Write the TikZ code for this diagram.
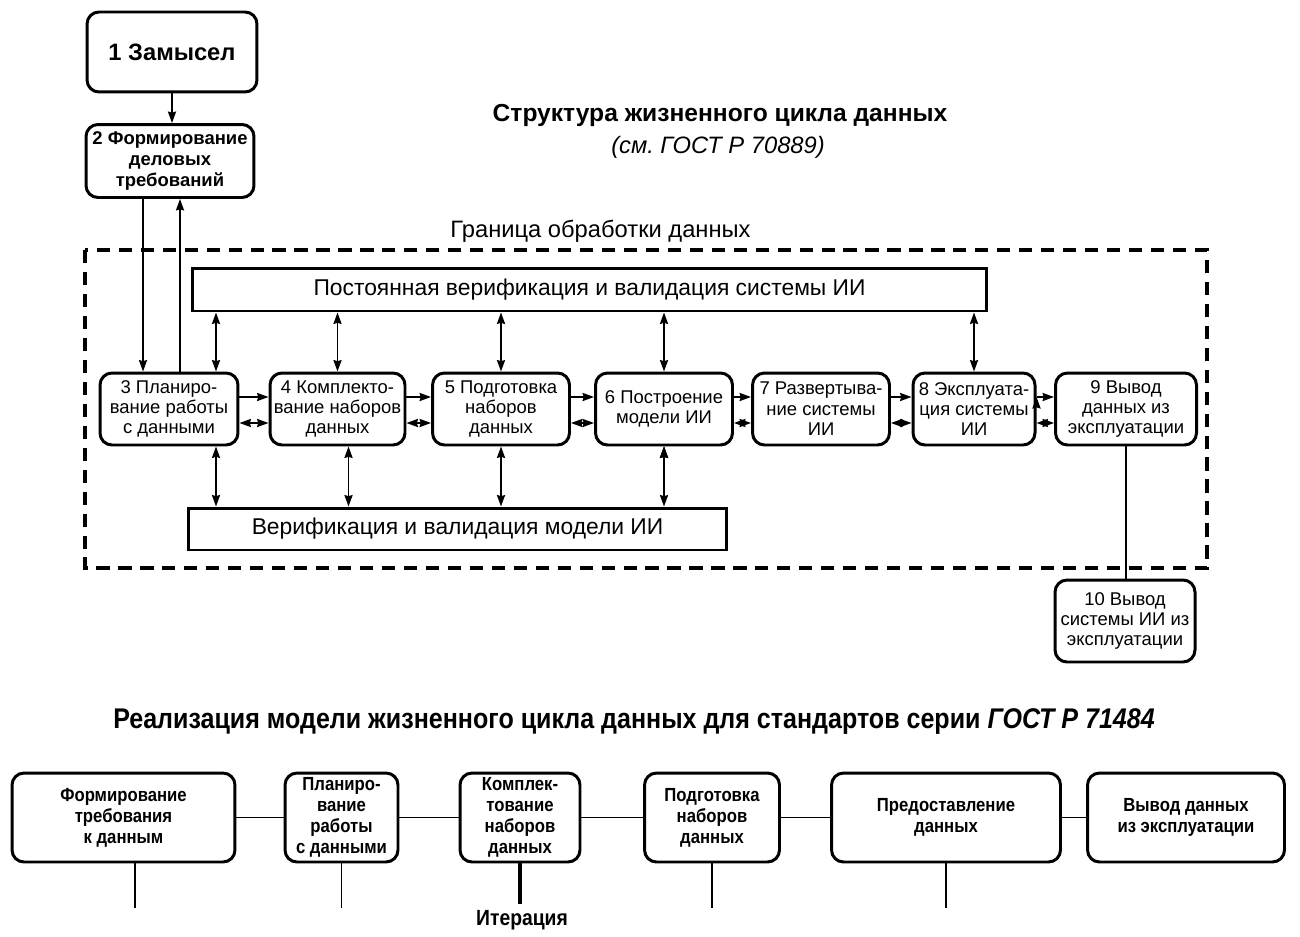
\documentclass[tikz,border=0pt]{standalone}
\usepackage{fontspec}
\setmainfont{Liberation Sans}
\newfontfamily\narrowfont{Liberation Sans}[FakeStretch=0.88]
\frenchspacing
\usetikzlibrary{arrows.meta,calc,positioning}
\tikzset{
  stage/.style={draw,line width=1.7pt,rounded corners=0.24cm,align=center,inner sep=0pt,
    font=\fontsize{10.5}{11.6}\selectfont},
  vvbar/.style={draw,line width=1.7pt,inner sep=0pt,font=\fontsize{13}{15}\selectfont},
  implbox/.style={draw,line width=1.7pt,rounded corners=0.24cm,align=center,inner sep=0pt,
    minimum height=1.78cm,font=\narrowfont\bfseries\fontsize{10.8}{12}\selectfont},
  link/.style={line width=1pt},
  >={Stealth[length=6.5pt,width=4.6pt,inset=0.6pt]}
}
\begin{document}
\begin{tikzpicture}[x=0.02cm,y=-0.02cm]
    \useasboundingbox (0,0) rectangle (1300,936);

    % upper part
    \node (n1) [stage,minimum width=3.4cm,minimum height=1.6cm,font=\bfseries\fontsize{13.5}{15}\selectfont] at (172,52) {1 Замысел};
    \node (n2) [stage,minimum width=3.36cm,minimum height=1.46cm,font=\bfseries\fontsize{10.5}{11.8}\selectfont] at (170,161) {2 Формирование\\деловых\\требований};
    \node (title) [font=\bfseries\fontsize{14}{16}\selectfont] at (720,115) {Структура жизненного цикла данных};
    \node (subtitle) [font=\itshape\fontsize{13.5}{16}\selectfont] at (718,147) {(см. ГОСТ Р 70889)};
    \node (border) [anchor=west,inner sep=0pt,font=\fontsize{13.5}{16}\selectfont] at (450,231) {Граница обработки данных};

    \draw[line width=2pt,dash pattern=on 7.5pt off 5pt] (85,250) rectangle (1207,568);

    \node (vsys) [vvbar,minimum width=15.9cm,minimum height=0.86cm] at (589.5,289.5) {Постоянная верификация и валидация системы ИИ};
    \node (vmod) [vvbar,minimum width=10.78cm,minimum height=0.84cm] at (457.5,529) {Верификация и валидация модели ИИ};

    \node (n3) [stage,minimum width=2.76cm,minimum height=1.44cm] at (169,409) {3 Планиро-\\вание работы\\с данными};
    \node (n4) [stage,minimum width=2.7cm,minimum height=1.44cm] at (337.5,409) {4 Комплекто-\\вание наборов\\данных};
    \node (n5) [stage,minimum width=2.74cm,minimum height=1.44cm] at (501,409) {5 Подготовка\\наборов\\данных};
    \node (n6) [stage,minimum width=2.74cm,minimum height=1.44cm] at (664,409) {6 Построение\\модели ИИ};
    \node (n7) [stage,minimum width=2.74cm,minimum height=1.44cm] at (821,409) {7 Развертыва-\\ние системы\\ИИ};
    \node (n8) [stage,minimum width=2.44cm,minimum height=1.44cm] at (974,409) {8 Эксплуата-\\ция системы\\ИИ};
    \node (n9) [stage,minimum width=2.82cm,minimum height=1.44cm] at (1126,409) {9 Вывод\\данных из\\эксплуатации};
    \node (n10) [stage,minimum width=2.8cm,minimum height=1.64cm] at (1125,621) {10 Вывод\\системы ИИ из\\эксплуатации};

    \coordinate (d2) at ($(n2.south)+(-27,0)$);
    \coordinate (u2) at ($(n2.south)+(10,0)$);
    \coordinate (t3) at ($(n3.north)+(47,0)$);
    \coordinate (b3) at ($(n3.south)+(47,0)$);
    \coordinate (b4) at ($(n4.south)+(11,0)$);

    \path[draw,link,->]
    (n1.south) edge (n1.south |- n2.north)
    (d2) edge (d2 |- n3.north)
    (u2 |- n3.north) edge (u2)
    ([yshift=0.24cm]n3.east) edge ([yshift=0.24cm]n4.west)
    ([yshift=0.24cm]n4.east) edge ([yshift=0.24cm]n5.west)
    ([yshift=0.24cm]n5.east) edge ([yshift=0.24cm]n6.west)
    ([yshift=0.24cm]n6.east) edge ([yshift=0.24cm]n7.west)
    ([yshift=0.24cm]n7.east) edge ([yshift=0.24cm]n8.west)
    ([yshift=0.24cm]n8.east) edge ([yshift=0.24cm]n9.west)
    ;

    \path[draw,link,<->]
    ([yshift=-0.28cm]n3.east) edge ([yshift=-0.28cm]n4.west)
    ([yshift=-0.28cm]n4.east) edge ([yshift=-0.28cm]n5.west)
    ([yshift=-0.28cm]n5.east) edge ([yshift=-0.28cm]n6.west)
    ([yshift=-0.28cm]n6.east) edge ([yshift=-0.28cm]n7.west)
    ([yshift=-0.28cm]n7.east) edge ([yshift=-0.28cm]n8.west)
    ([yshift=-0.28cm]n8.east) edge ([yshift=-0.28cm]n9.west)
    (t3) edge (t3 |- vsys.south)
    (n4.north) edge (n4.north |- vsys.south)
    (n5.north) edge (n5.north |- vsys.south)
    (n6.north) edge (n6.north |- vsys.south)
    (n8.north) edge (n8.north |- vsys.south)
    (b3) edge (b3 |- vmod.north)
    (b4) edge (b4 |- vmod.north)
    (n5.south) edge (n5.south |- vmod.north)
    (n6.south) edge (n6.south |- vmod.north)
    ;

    \draw[link] (n9.south) -- (n9.south |- n10.north);

    % lower part
    \node (impltitle) [font=\narrowfont\bfseries\fontsize{16.2}{18}\selectfont] at (634,722) {Реализация модели жизненного цикла данных для стандартов серии \textit{ГОСТ Р 71484}};

    \node (pA) [implbox,minimum width=4.46cm] at (123.5,817.5) {Формирование\\требования\\к данным};
    \node (pB) [implbox,minimum width=2.26cm] at (341.5,817.5) {Планиро-\\вание\\работы\\с данными};
    \node (pC) [implbox,minimum width=2.4cm] at (520,817.5) {Комплек-\\тование\\наборов\\данных};
    \node (pD) [implbox,minimum width=2.7cm] at (712,817.5) {Подготовка\\наборов\\данных};
    \node (pE) [implbox,minimum width=4.58cm] at (946,817.5) {Предоставление\\данных};
    \node (pF) [implbox,minimum width=3.94cm] at (1186,817.5) {Вывод данных\\из эксплуатации};
    \node (iter) [font=\narrowfont\bfseries\fontsize{12.5}{14}\selectfont] at (522,920) {Итерация};

    \coordinate (lA) at ($(pA.south)+(11.5,45)$);
    \coordinate (lB) at ($(pB.south)+(0,45)$);
    \coordinate (lD) at ($(pD.south)+(0,45)$);
    \coordinate (lE) at ($(pE.south)+(0,45)$);

    \path[draw,link]
    (pA) edge (pB)
    (pB) edge (pC)
    (pC) edge (pD)
    (pD) edge (pE)
    (pE) edge (pF)
    (lA |- pA.south) edge (lA)
    (pB.south) edge (lB)
    (pD.south) edge (lD)
    (pE.south) edge (lE)
    ;
    \draw[line width=1.8pt] (pC.south) -- (pC.south |- iter.north);
\end{tikzpicture}
\end{document}
